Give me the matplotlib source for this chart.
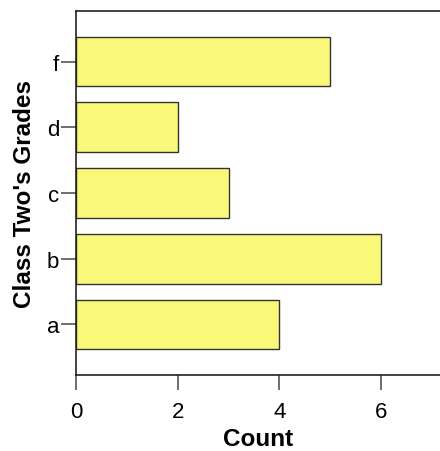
import matplotlib.pyplot as plt

plt.rcParams['font.family'] = ['Liberation Sans', 'DejaVu Sans']

grades = ['a', 'b', 'c', 'd', 'f']
counts = [4, 6, 3, 2, 5]

fig = plt.figure(figsize=(4.4, 4.52), dpi=100)
ax = fig.add_axes([76 / 440, 76 / 452, 1 - 76 / 440, 364 / 452])

ax.barh(range(len(grades)), counts, height=0.755, color='#faf878', edgecolor='#333333', linewidth=1)

ax.set_yticks(range(len(grades)))
ax.set_yticklabels(grades)
ax.set_xticks([0, 2, 4, 6])
ax.set_xlim(0, 7.16)
ax.set_ylim(-0.77, 4.77)

ax.spines['right'].set_visible(False)
for s in ['left', 'top', 'bottom']:
    ax.spines[s].set_linewidth(1.2)
    ax.spines[s].set_color('#222222')
ax.tick_params(axis='both', width=1.2, color='#555555', labelsize=16)
ax.tick_params(axis='x', length=11, pad=8)
ax.tick_params(axis='y', length=10.5, pad=1.5)

ax.set_xlabel('Count', fontsize=17.5, fontweight='bold', labelpad=3)
ax.set_ylabel("Class Two's Grades", fontsize=17.5, fontweight='bold', labelpad=8)

fig.savefig('out.png', dpi=100)
